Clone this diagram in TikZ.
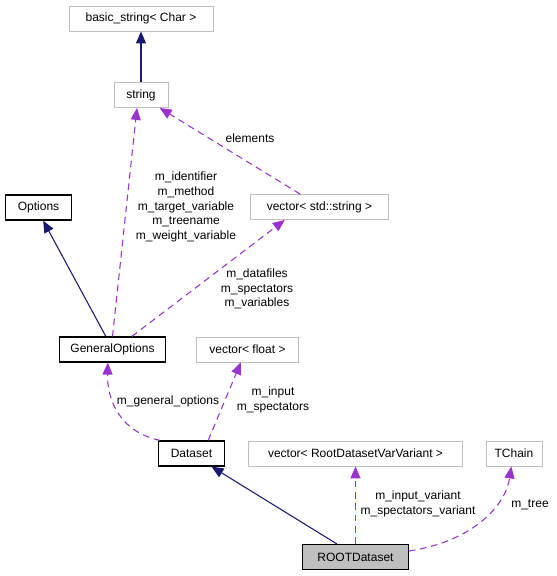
\documentclass[tikz,border=0pt]{standalone}
\usepackage{fontspec}
\setmainfont{Liberation Sans}
\usetikzlibrary{arrows.meta}
\definecolor{EdgeBlue}{HTML}{191970}
\definecolor{EdgePurple}{HTML}{9A32CD}
\definecolor{BoxGrey}{HTML}{BFBFBF}
\begin{document}
\begin{tikzpicture}[
  x=0.75pt,y=-0.75pt,
  >={Triangle[length=9pt,width=7.5pt]},
  box/.style={draw=BoxGrey,line width=0.6pt,minimum height=18.75pt,inner xsep=6pt,font=\fontsize{9}{11}\selectfont},
  cls/.style={box,draw=black,line width=0.9pt},
  inherit/.style={->,EdgeBlue,line width=0.8pt},
  member/.style={->,EdgePurple,line width=0.8pt,dash pattern=on 5pt off 3.5pt},
  lbl/.style={font=\fontsize{9}{11}\selectfont,align=center,text=black}
]
  \useasboundingbox (0,0) rectangle (557,576);
  % classes
  \node[box,minimum width=108pt] (basic) at (141,18.5) {basic\_string< Char >};
  \node[box,minimum width=40.5pt] (string) at (141,95) {string};
  \node[cls,minimum width=50pt] (opts) at (38.5,207.5) {Options};
  \node[box,minimum width=104pt] (vecstr) at (319.5,207) {vector< std::string >};
  \node[cls,minimum width=79pt] (genopt) at (112.5,349.5) {GeneralOptions};
  \node[box,minimum width=76pt] (vecfloat) at (247.5,349.5) {vector< float >};
  \node[cls,minimum width=50pt] (dataset) at (191.5,453.5) {Dataset};
  \node[box,minimum width=160pt] (vecvar) at (355.5,453.5) {vector< RootDatasetVarVariant >};
  \node[box,minimum width=42pt] (tchain) at (514,453.5) {TChain};
  \node[cls,fill=BoxGrey,minimum width=79pt] (root) at (355.5,557) {ROOTDataset};
  % inheritance
  \draw[inherit] (string.north) -- (basic.south);
  \draw[inherit] ([xshift=-5pt]genopt.north) -- ([xshift=3.5pt]opts.south);
  \draw[inherit] ([xshift=-14pt]root.north) -- ([xshift=15pt]dataset.south);
  % members
  \draw[member] (genopt.north) -- ([xshift=-3pt]string.south);
  \draw[member] ([xshift=-14.5pt]vecstr.north) -- ([xshift=14pt]string.south);
  \draw[member] ([xshift=14.5pt]genopt.north) -- ([xshift=-26pt]vecstr.south);
  \draw[member] ([xshift=-23.5pt]dataset.north) .. controls (120,432) and (107,400) .. ([xshift=-3.5pt]genopt.south);
  \draw[member] ([xshift=12.5pt]dataset.north) -- ([xshift=-5pt]vecfloat.south);
  \draw[member] (root.north) -- (vecvar.south);
  \draw[member] ([yshift=4.5pt]root.east) .. controls (470,542) and (505,508) .. ([xshift=-2pt]tchain.south);
  % labels
  \node[lbl] (lblid) at (186,207) {m\_identifier\\m\_method\\m\_target\_variable\\m\_treename\\m\_weight\_variable};
  \node[lbl] (lblel) at (250,138) {elements};
  \node[lbl] (lbldata) at (257,289) {m\_datafiles\\m\_spectators\\m\_variables};
  \node[lbl] (lblgen) at (168,401) {m\_general\_options};
  \node[lbl] (lblin) at (273,400) {m\_input\\m\_spectators};
  \node[lbl] (lblvar) at (418,504) {m\_input\_variant\\m\_spectators\_variant};
  \node[lbl] (lbltree) at (530,505) {m\_tree};
\end{tikzpicture}
\end{document}
